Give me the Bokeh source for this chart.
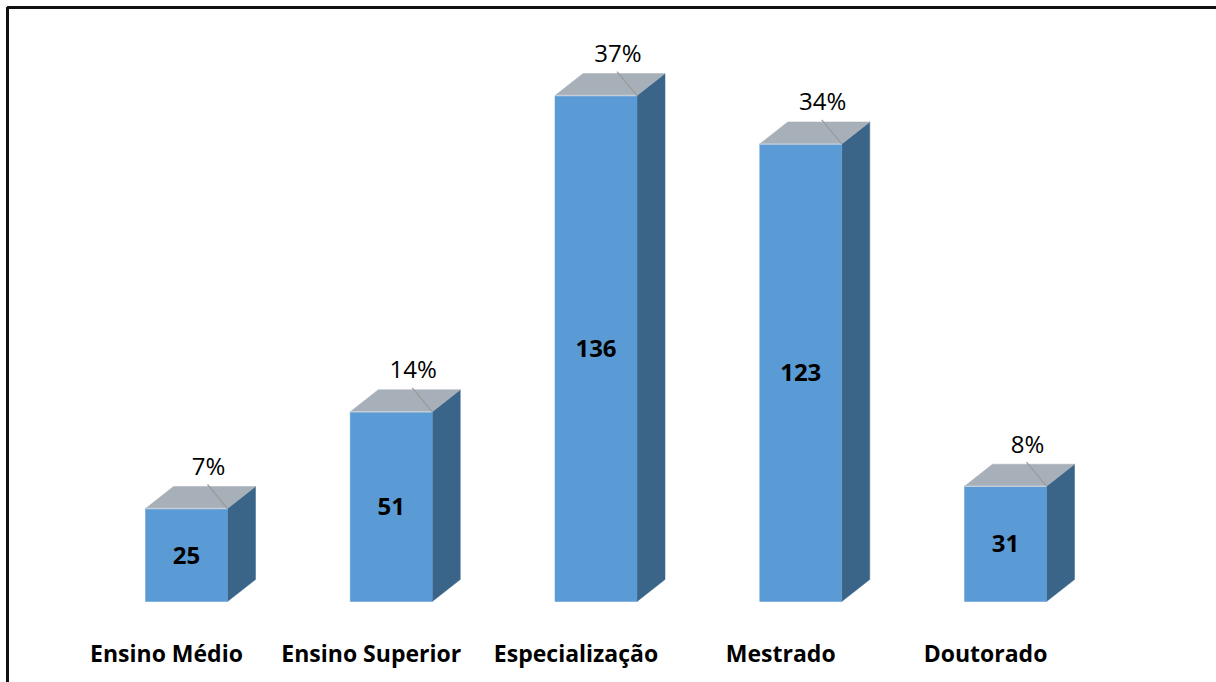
import numpy as np
from bokeh.plotting import figure
from bokeh.models import Range1d, ColumnDataSource
from bokeh.core.properties import value
from bokeh.embed import file_html
from bokeh.resources import INLINE

# ---- data ----
categories = ["Ensino Médio", "Ensino Superior", "Especialização", "Mestrado", "Doutorado"]
counts = [25, 51, 136, 123, 31]
pct_labels = ["7%", "14%", "37%", "34%", "8%"]

# ---- layout constants (pixels -> data units) ----
PX_X = 204.75   # pixels per category step
PX_Y = 3.72     # pixels per count unit
X0_PX = 186     # pixel of first bar centre
Y0_PX = 601     # pixel (from top) of zero line
W = 82 / PX_X
DX = 28 / PX_X
DY = 22 / PX_Y

FRONT = "#5B9BD5"
SIDE = "#3A6589"
TOP = "#A7AFB8"
FONT = value("Open Sans")

idx = np.arange(len(categories), dtype=float)
vals = np.array(counts, dtype=float)

XR = Range1d(-X0_PX / PX_X, (1216 - X0_PX) / PX_X)
YR = Range1d(-(682 - Y0_PX) / PX_Y, Y0_PX / PX_Y)
p = figure(width=1216, height=682, output_backend="svg", toolbar_location=None,
           x_range=XR, y_range=YR,
           x_axis_location=None, y_axis_location=None, min_border=0)
p.grid.visible = False
p.outline_line_color = None
p.background_fill_color = "white"
p.border_fill_color = "white"

# border (only left and top edges fall inside the window)
p.quad(left=[(7 - X0_PX) / PX_X], right=[XR.end + 2], top=[(Y0_PX - 7) / PX_Y], bottom=[YR.start - 20],
       fill_color=None, line_color="#111111", line_width=3)

# side faces
side_xs = [[x + W / 2, x + W / 2 + DX, x + W / 2 + DX, x + W / 2] for x in idx]
side_ys = [[0, DY, v + DY, v] for v in vals]
p.patches(side_xs, side_ys, fill_color=SIDE, line_color=SIDE, line_width=0.5)

# top faces
top_xs = [[x - W / 2, x + W / 2, x + W / 2 + DX, x - W / 2 + DX] for x in idx]
top_ys = [[v, v, v + DY, v + DY] for v in vals]
p.patches(top_xs, top_ys, fill_color=TOP, line_color=TOP, line_width=0.5)

# front faces
p.vbar(x=idx, top=vals, bottom=0, width=W, fill_color=FRONT, line_color=FRONT, line_width=0.5)
# light edge between top and front
p.segment(x0=idx - W / 2, y0=vals, x1=idx + W / 2, y1=vals, line_color="#C3CED8", line_width=1.5)

# leader lines
p.segment(x0=idx + 21 / PX_X, y0=vals + 24 / PX_Y, x1=idx + 41 / PX_X, y1=vals,
          line_color="#9A9A9A", line_width=1.2)

# percentage labels
src_pct = ColumnDataSource(dict(x=idx + 22 / PX_X, y=vals + 43 / PX_Y, t=pct_labels))
p.text(x="x", y="y", text="t", source=src_pct, text_font=FONT,
       text_font_size="24px", text_color="#000000", text_align="center", text_baseline="middle")

# count labels
src_cnt = ColumnDataSource(dict(x=idx, y=vals / 2, t=[str(c) for c in counts]))
p.text(x="x", y="y", text="t", source=src_cnt, text_font=FONT, text_font_style="bold",
       text_font_size="24px", text_color="#000000", text_align="center", text_baseline="middle")

# category labels
src_cat = ColumnDataSource(dict(x=idx - 20 / PX_X, y=np.full(len(idx), -51 / PX_Y), t=categories))
p.text(x="x", y="y", text="t", source=src_cat, text_font=FONT, text_font_style="bold",
       text_font_size="23px", text_color="#000000", text_align="center", text_baseline="middle")

open("out.html", "w").write(file_html(p, INLINE))
